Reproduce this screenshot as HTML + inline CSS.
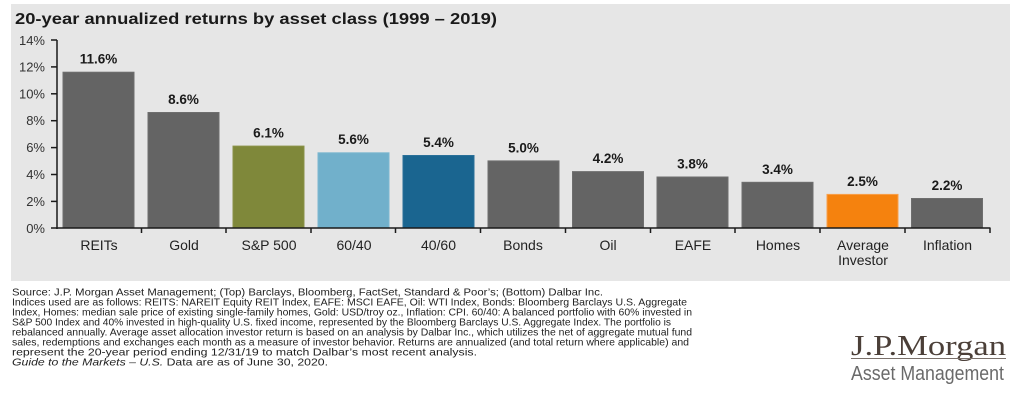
<!DOCTYPE html>
<html>
<head>
<meta charset="utf-8">
<style>
  html,body{margin:0;padding:0;background:#fff;}
  svg{display:block;}
  .s{font-family:"Liberation Sans",Arial,sans-serif;}
  .serif{font-family:"Liberation Serif","DejaVu Serif",serif;}
</style>
</head>
<body>
<svg width="1024" height="405" viewBox="0 0 1024 405" xmlns="http://www.w3.org/2000/svg">
  <rect x="0" y="0" width="1024" height="405" fill="#ffffff"/>
  <!-- panel -->
  <rect x="11" y="4" width="999" height="277" fill="#e6e6e6"/>

  <!-- title -->
  <text class="s" x="15" y="24" font-size="16" font-weight="bold" fill="#1a1a1a" textLength="482" lengthAdjust="spacingAndGlyphs">20-year annualized returns by asset class (1999 – 2019)</text>

  <!-- y tick labels -->
  <g class="s" font-size="13" fill="#333" text-anchor="end">
    <text x="45" y="45">14%</text>
    <text x="45" y="71.4">12%</text>
    <text x="45" y="98.3">10%</text>
    <text x="45" y="125.2">8%</text>
    <text x="45" y="152.1">6%</text>
    <text x="45" y="179">4%</text>
    <text x="45" y="205.9">2%</text>
    <text x="45" y="232.8">0%</text>
  </g>

  <!-- bars -->
  <g stroke-width="1">
    <rect x="63" y="72.2" width="71" height="155.8" fill="#646464" stroke="#6e6e6e"/>
    <rect x="148" y="112.5" width="71" height="115.5" fill="#646464" stroke="#6e6e6e"/>
    <rect x="233" y="146.1" width="71" height="81.9" fill="#7f883a" stroke="#8a9248"/>
    <rect x="318" y="152.8" width="71" height="75.2" fill="#71b0cb" stroke="#7cb7d0"/>
    <rect x="403" y="155.5" width="71" height="72.5" fill="#1a6590" stroke="#2a7099"/>
    <rect x="488" y="160.9" width="71" height="67.1" fill="#646464" stroke="#6e6e6e"/>
    <rect x="572.5" y="171.6" width="71" height="56.4" fill="#646464" stroke="#6e6e6e"/>
    <rect x="657" y="177" width="71" height="51" fill="#646464" stroke="#6e6e6e"/>
    <rect x="742" y="182.3" width="71" height="45.7" fill="#646464" stroke="#6e6e6e"/>
    <rect x="827" y="194.4" width="71" height="33.6" fill="#f5820e" stroke="#f8a04c"/>
    <rect x="911.5" y="198.5" width="71" height="29.5" fill="#646464" stroke="#6e6e6e"/>
  </g>

  <!-- value labels -->
  <g class="s" font-size="13.5" font-weight="bold" fill="#1a1a1a" text-anchor="middle">
    <text x="98.5" y="63.5">11.6%</text>
    <text x="183.5" y="104">8.6%</text>
    <text x="268.5" y="137.5">6.1%</text>
    <text x="353.5" y="144">5.6%</text>
    <text x="438.5" y="147">5.4%</text>
    <text x="523.5" y="152.5">5.0%</text>
    <text x="608" y="163">4.2%</text>
    <text x="692.5" y="168.5">3.8%</text>
    <text x="777.5" y="174">3.4%</text>
    <text x="862.5" y="186">2.5%</text>
    <text x="947" y="190">2.2%</text>
  </g>

  <!-- axes -->
  <g stroke="#1a1a1a" stroke-width="1.5" fill="none">
    <line x1="57" y1="40" x2="57" y2="229"/>
    <line x1="56.3" y1="228" x2="990.5" y2="228"/>
    <line x1="51" y1="40" x2="57" y2="40"/>
    <line x1="51" y1="66.9" x2="57" y2="66.9"/>
    <line x1="51" y1="93.8" x2="57" y2="93.8"/>
    <line x1="51" y1="120.7" x2="57" y2="120.7"/>
    <line x1="51" y1="147.6" x2="57" y2="147.6"/>
    <line x1="51" y1="174.5" x2="57" y2="174.5"/>
    <line x1="51" y1="201.4" x2="57" y2="201.4"/>
    <line x1="51" y1="228" x2="57" y2="228"/>
    <line x1="141.5" y1="228" x2="141.5" y2="233"/>
    <line x1="226" y1="228" x2="226" y2="233"/>
    <line x1="311" y1="228" x2="311" y2="233"/>
    <line x1="395.5" y1="228" x2="395.5" y2="233"/>
    <line x1="480.5" y1="228" x2="480.5" y2="233"/>
    <line x1="565.5" y1="228" x2="565.5" y2="233"/>
    <line x1="650.5" y1="228" x2="650.5" y2="233"/>
    <line x1="735" y1="228" x2="735" y2="233"/>
    <line x1="820" y1="228" x2="820" y2="233"/>
    <line x1="905" y1="228" x2="905" y2="233"/>
    <line x1="990" y1="228" x2="990" y2="233"/>
  </g>

  <!-- category labels -->
  <g class="s" font-size="14" fill="#222" text-anchor="middle">
    <text x="99" y="250">REITs</text>
    <text x="184" y="250">Gold</text>
    <text x="269" y="250">S&amp;P 500</text>
    <text x="354" y="250">60/40</text>
    <text x="438.5" y="250">40/60</text>
    <text x="523" y="250">Bonds</text>
    <text x="608" y="250">Oil</text>
    <text x="693" y="250">EAFE</text>
    <text x="778" y="250">Homes</text>
    <text x="863" y="250">Average</text>
    <text x="863" y="265">Investor</text>
    <text x="947.5" y="250">Inflation</text>
  </g>

  <!-- footer notes -->
  <g class="s" font-size="10.4" fill="#222">
    <text x="12" y="295.5" textLength="591" lengthAdjust="spacingAndGlyphs">Source: J.P. Morgan Asset Management; (Top) Barclays, Bloomberg, FactSet, Standard &amp; Poor’s; (Bottom) Dalbar Inc.</text>
    <text x="12" y="305.5" textLength="675" lengthAdjust="spacingAndGlyphs">Indices used are as follows: REITS: NAREIT Equity REIT Index, EAFE: MSCI EAFE, Oil: WTI Index, Bonds: Bloomberg Barclays U.S. Aggregate</text>
    <text x="12" y="315.5" textLength="680" lengthAdjust="spacingAndGlyphs">Index, Homes: median sale price of existing single-family homes, Gold: USD/troy oz., Inflation: CPI. 60/40: A balanced portfolio with 60% invested in</text>
    <text x="12" y="325.5" textLength="659" lengthAdjust="spacingAndGlyphs">S&amp;P 500 Index and 40% invested in high-quality U.S. fixed income, represented by the Bloomberg Barclays U.S. Aggregate Index. The portfolio is</text>
    <text x="12" y="335.5" textLength="680" lengthAdjust="spacingAndGlyphs">rebalanced annually. Average asset allocation investor return is based on an analysis by Dalbar Inc., which utilizes the net of aggregate mutual fund</text>
    <text x="12" y="345.5" textLength="677" lengthAdjust="spacingAndGlyphs">sales, redemptions and exchanges each month as a measure of investor behavior. Returns are annualized (and total return where applicable) and</text>
    <text x="12" y="355.5" textLength="465" lengthAdjust="spacingAndGlyphs">represent the 20-year period ending 12/31/19 to match Dalbar’s most recent analysis.</text>
    <text x="12" y="365.5" textLength="316" lengthAdjust="spacingAndGlyphs"><tspan font-style="italic">Guide to the Markets – U.S.</tspan> Data are as of June 30, 2020.</text>
  </g>

  <!-- logo -->
  <text class="serif" x="851" y="355" font-size="28" fill="#4b3f38" textLength="155" lengthAdjust="spacingAndGlyphs">J.P.Morgan</text>
  <line x1="851" y1="358.5" x2="1006" y2="358.5" stroke="#7a706a" stroke-width="1"/>
  <text class="s" x="851" y="380" font-size="20" fill="#6a6a6a" textLength="153" lengthAdjust="spacingAndGlyphs">Asset Management</text>
</svg>
</body>
</html>
